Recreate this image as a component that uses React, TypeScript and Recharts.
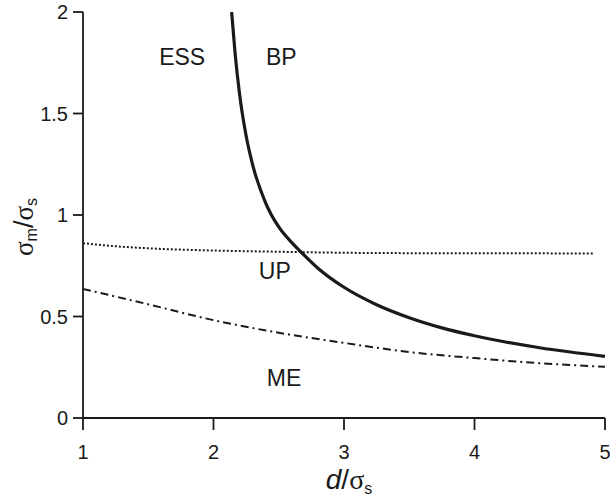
import React from 'react';
import { LineChart, Line, XAxis, YAxis, ReferenceDot, Label } from 'recharts';

// Solid curve (BP / UP boundary)
const solidX = [2.139, 2.165, 2.2, 2.25, 2.3, 2.4, 2.5, 2.6, 2.67, 2.8, 3.0, 3.25, 3.5, 3.75, 4.0, 4.5, 5.0];
const solidY = [2.0, 1.8, 1.594, 1.39, 1.247, 1.059, 0.941, 0.864, 0.818, 0.738, 0.644, 0.558, 0.494, 0.444, 0.405, 0.346, 0.304];

// Dotted curve
const dottedX = [1, 1.25, 1.5, 2, 2.5, 3, 3.5, 4, 4.5, 4.92];
const dottedY = [0.861, 0.846, 0.836, 0.825, 0.819, 0.814, 0.812, 0.811, 0.811, 0.81];

// Dash-dot curve
const dashX = [1, 1.5, 2, 2.5, 3, 3.5, 4, 4.5, 5];
const dashY = [0.636, 0.56, 0.482, 0.42, 0.37, 0.325, 0.295, 0.27, 0.252];

const xTicks = [1, 2, 3, 4, 5];
const yTicks = [0, 0.5, 1, 1.5, 2];

const regionLabels = ['ESS', 'BP', 'UP', 'ME'];
const regionX = [1.76, 2.52, 2.47, 2.54];
const regionY = [1.78, 1.78, 0.724, 0.197];

const toPts = (xs: number[], ys: number[]) => xs.map((x, i) => ({ x, y: ys[i] }));
const solidData = toPts(solidX, solidY);
const dottedData = toPts(dottedX, dottedY);
const dashData = toPts(dashX, dashY);

const INK = '#1a1a1a';
const SANS = '"Liberation Sans", Arial, Helvetica, sans-serif';
const SERIF = '"Liberation Serif", "Times New Roman", serif';

const XTitle = (props: any) => {
  const vb = props.viewBox || { x: 83, width: 522 };
  return (
    <text x={vb.x + vb.width / 2 + 5} y={489} textAnchor="middle" fill={INK} fontFamily={SANS} fontSize={28}>
      <tspan fontStyle="italic">d</tspan>
      <tspan>/</tspan>
      <tspan fontFamily={SERIF}>σ</tspan>
      <tspan fontSize={16} dy={5}>s</tspan>
    </text>
  );
};

const YTitle = () => (
  <text transform="translate(33,227) rotate(-90)" textAnchor="middle" fill={INK} fontFamily={SANS} fontSize={27}>
    <tspan fontFamily={SERIF}>σ</tspan>
    <tspan fontSize={16} dy={4}>m</tspan>
    <tspan dy={-4}>/</tspan>
    <tspan fontFamily={SERIF}>σ</tspan>
    <tspan fontSize={16} dy={4}>s</tspan>
  </text>
);

export default function App() {
  return (
    <div style={{ position: 'absolute', left: 0, top: 0, width: 610, height: 498, background: '#fff' }}>
      <LineChart width={610} height={498} margin={{ top: 12, right: 5, left: 23, bottom: 50 }}>
        <XAxis
          type="number"
          dataKey="x"
          domain={[1, 5]}
          ticks={xTicks}
          allowDataOverflow
          height={30}
          tickSize={12}
          tickMargin={15}
          stroke={INK}
          strokeWidth={1.8}
          tick={{ fill: INK, fontSize: 20, fontFamily: SANS }}
        >
          <Label content={<XTitle />} />
        </XAxis>
        <YAxis
          type="number"
          dataKey="y"
          domain={[0, 2]}
          ticks={yTicks}
          allowDataOverflow
          width={60}
          tickSize={10}
          tickMargin={5}
          stroke={INK}
          strokeWidth={1.8}
          tick={{ fill: INK, fontSize: 20, fontFamily: SANS }}
        >
          <Label content={<YTitle />} />
        </YAxis>
        <Line data={dottedData} dataKey="y" type="monotone" stroke={INK} strokeWidth={2} strokeDasharray="2 2" dot={false} isAnimationActive={false} />
        <Line data={dashData} dataKey="y" type="monotone" stroke={INK} strokeWidth={2} strokeDasharray="8 4 2 4" dot={false} isAnimationActive={false} />
        <Line data={solidData} dataKey="y" type="monotone" stroke={INK} strokeWidth={3.2} dot={false} isAnimationActive={false} />
        {regionLabels.map((t, i) => (
          <ReferenceDot
            key={t}
            x={regionX[i]}
            y={regionY[i]}
            r={0}
            fill="none"
            stroke="none"
            label={{ value: t, position: 'center', fill: INK, fontSize: 23, fontFamily: SANS }}
          />
        ))}
      </LineChart>
    </div>
  );
}
